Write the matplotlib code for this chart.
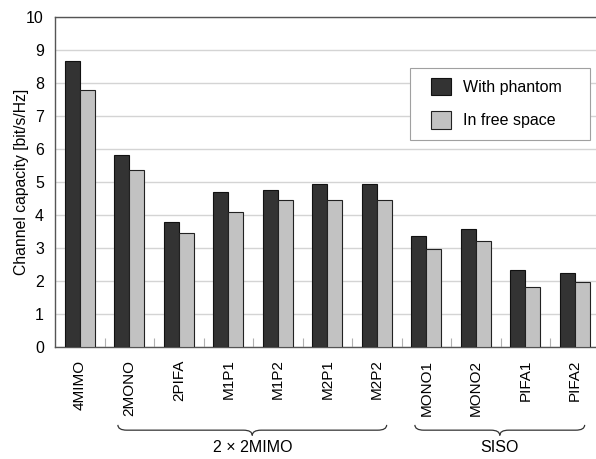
import numpy as np
import matplotlib.pyplot as plt
from matplotlib.path import Path
from matplotlib.patches import PathPatch, Rectangle
from matplotlib.transforms import blended_transform_factory

plt.rcParams['font.family'] = ['Liberation Sans', 'DejaVu Sans']

# channel capacity for each antenna configuration
configs = ['4MIMO', '2MONO', '2PIFA', 'M1P1', 'M1P2', 'M2P1', 'M2P2',
           'MONO1', 'MONO2', 'PIFA1', 'PIFA2']
with_phantom = [8.67, 5.81, 3.78, 4.69, 4.76, 4.93, 4.93, 3.36, 3.59, 2.32, 2.24]
free_space = [7.80, 5.37, 3.44, 4.10, 4.45, 4.45, 4.45, 2.97, 3.22, 1.82, 1.98]

# groups under the x labels (first index, last index, label)
groups = [(1, 6, '2 \u00d7 2MIMO'), (7, 10, 'SISO')]

fig = plt.figure(figsize=(5.96, 4.59), dpi=100)
ax = fig.add_axes([0.0923, 0.244, 0.9136, 0.719])

x = np.arange(len(configs))
w = 0.3
ax.bar(x - w/2, with_phantom, w, color='#333333', edgecolor='#111111',
       linewidth=0.8, label='With phantom', zorder=3)
ax.bar(x + w/2, free_space, w, color='#c2c2c2', edgecolor='#222222',
       linewidth=0.8, label='In free space', zorder=3)

ax.set_xlim(-0.5, len(configs) - 0.5)
ax.set_ylim(0, 10)
ax.set_yticks(range(0, 11))
ax.yaxis.grid(True, color='#d4d4d4', linewidth=1.0, zorder=0)
ax.set_axisbelow(True)

ax.set_xticks(x)
ax.set_xticklabels(configs, rotation=90, fontsize=11)
ax.tick_params(axis='x', length=0, pad=9)
ax.set_xticks(np.arange(0.5, len(configs) - 0.5), minor=True)
ax.tick_params(axis='x', which='minor', direction='in', length=6.5,
               color='#b0b0b0', width=0.8)
ax.tick_params(axis='y', length=0, pad=8, labelsize=11.5)
ax.set_ylabel('Channel capacity [bit/s/Hz]', fontsize=11.3, labelpad=-2)

for s in ['left', 'top', 'bottom']:
    ax.spines[s].set_color('#555555')
    ax.spines[s].set_linewidth(1.0)
ax.spines['right'].set_visible(False)

# legend box drawn separately so the padding can be set on each side
ax.add_patch(Rectangle((0.652, 0.627), 0.331, 0.218, transform=ax.transAxes,
                       facecolor='white', edgecolor='#a0a0a0', linewidth=0.8,
                       zorder=4))
leg = ax.legend(loc='upper left', bbox_to_anchor=(0.690, 0.815),
                fontsize=11.5, frameon=False,
                handlelength=1.3, handleheight=1.3, labelspacing=1.0,
                borderpad=0, handletextpad=0.7, borderaxespad=0)
leg.set_zorder(5)

# curly braces below the group labels
trans = blended_transform_factory(ax.transData, ax.transAxes)
yt, ym, yb = -0.236, -0.252, -0.268
r = 0.18
for first, last, label in groups:
    x0, x1 = first - 0.23, last + 0.2
    xm = (x0 + x1) / 2
    verts = [(x0, yt), (x0, ym), (x0 + r, ym), (xm - r, ym),
             (xm, ym), (xm, yb), (xm, ym), (xm + r, ym),
             (x1 - r, ym), (x1, ym), (x1, yt)]
    codes = [Path.MOVETO, Path.CURVE3, Path.CURVE3, Path.LINETO,
             Path.CURVE3, Path.CURVE3, Path.CURVE3, Path.CURVE3,
             Path.LINETO, Path.CURVE3, Path.CURVE3]
    ax.add_patch(PathPatch(Path(verts, codes), transform=trans, fill=False,
                           edgecolor='#333333', linewidth=0.9, clip_on=False))
    ax.text(xm, -0.306, label, transform=trans, ha='center', va='center',
            fontsize=11.5)

fig.savefig('out.png', dpi=100)
